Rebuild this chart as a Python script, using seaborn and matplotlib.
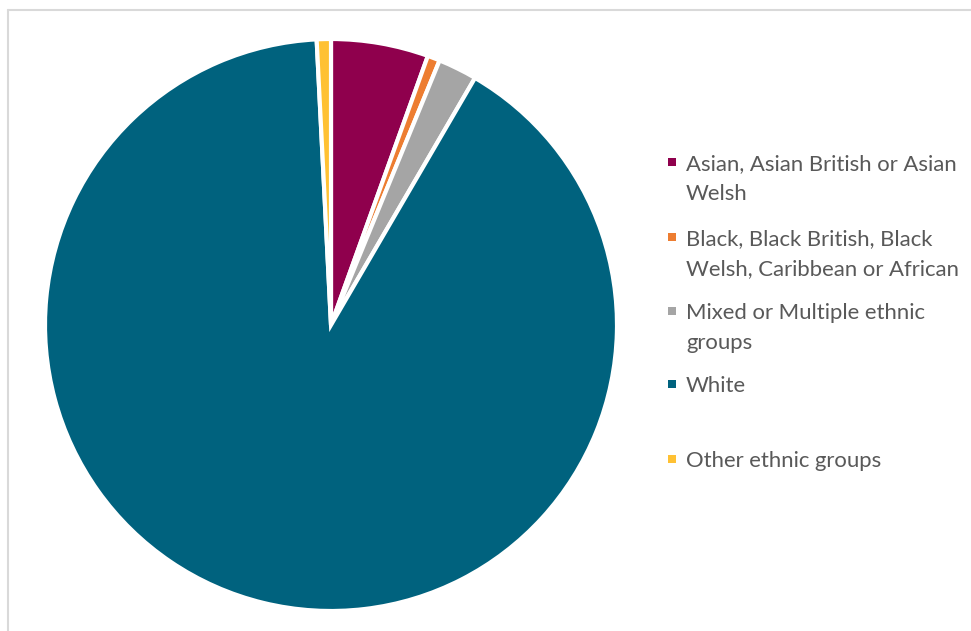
import matplotlib
matplotlib.use("Agg")
import matplotlib.pyplot as plt
from matplotlib.lines import Line2D
from matplotlib.patches import Rectangle
import seaborn as sns

# Ethnic group shares (%)
categories = [
    "Asian, Asian British or Asian\nWelsh",
    "Black, Black British, Black\nWelsh, Caribbean or African",
    "Mixed or Multiple ethnic\ngroups",
    "White",
    "Other ethnic groups",
]
shares = [5.5, 0.7, 2.2, 90.8, 0.8]
colors = ["#8F004D", "#ED7D31", "#A5A5A5", "#00627E", "#FFC133"]

sns.set_theme(style="white")
plt.rcParams["font.family"] = ["Lato", "DejaVu Sans"]

W, H = 971, 631
fig = plt.figure(figsize=(W / 100, H / 100), dpi=100)
fig.patch.set_facecolor("white")

# Pie placed so its centre sits at (331, 325) px
cx, cy, r = 331, 325, 286
ax = fig.add_axes([(cx - r) / W, (H - cy - r) / H, 2 * r / W, 2 * r / H])
ax.pie(
    shares,
    colors=colors,
    startangle=90,
    counterclock=False,
    wedgeprops=dict(edgecolor="white", linewidth=3),
)
ax.set_xlim(-1, 1)
ax.set_ylim(-1, 1)
ax.set_aspect("equal")
ax.axis("off")

# Chart-area frame (top and left edges)
fig.add_artist(Line2D([8 / W, 1], [1 - 10 / H, 1 - 10 / H], color="#D9D9D9", lw=1.5))
fig.add_artist(Line2D([8 / W, 8 / W], [1 - 10 / H, 0], color="#D9D9D9", lw=1.5))

# Legend: one fixed-height slot per entry (y = centre of first text line)
slot_centres = [162, 237, 311, 384, 459]
for label, col, y in zip(categories, colors, slot_centres):
    fig.add_artist(Rectangle((668 / W, 1 - (y + 4) / H), 8 / W, 8 / H,
                             transform=fig.transFigure, color=col, lw=0))
    fig.text(686 / W, 1 - (y - 8) / H, label, ha="left", va="top",
             fontsize=15.9, color="#595959", linespacing=1.62)

fig.savefig("out.png", dpi=100)
